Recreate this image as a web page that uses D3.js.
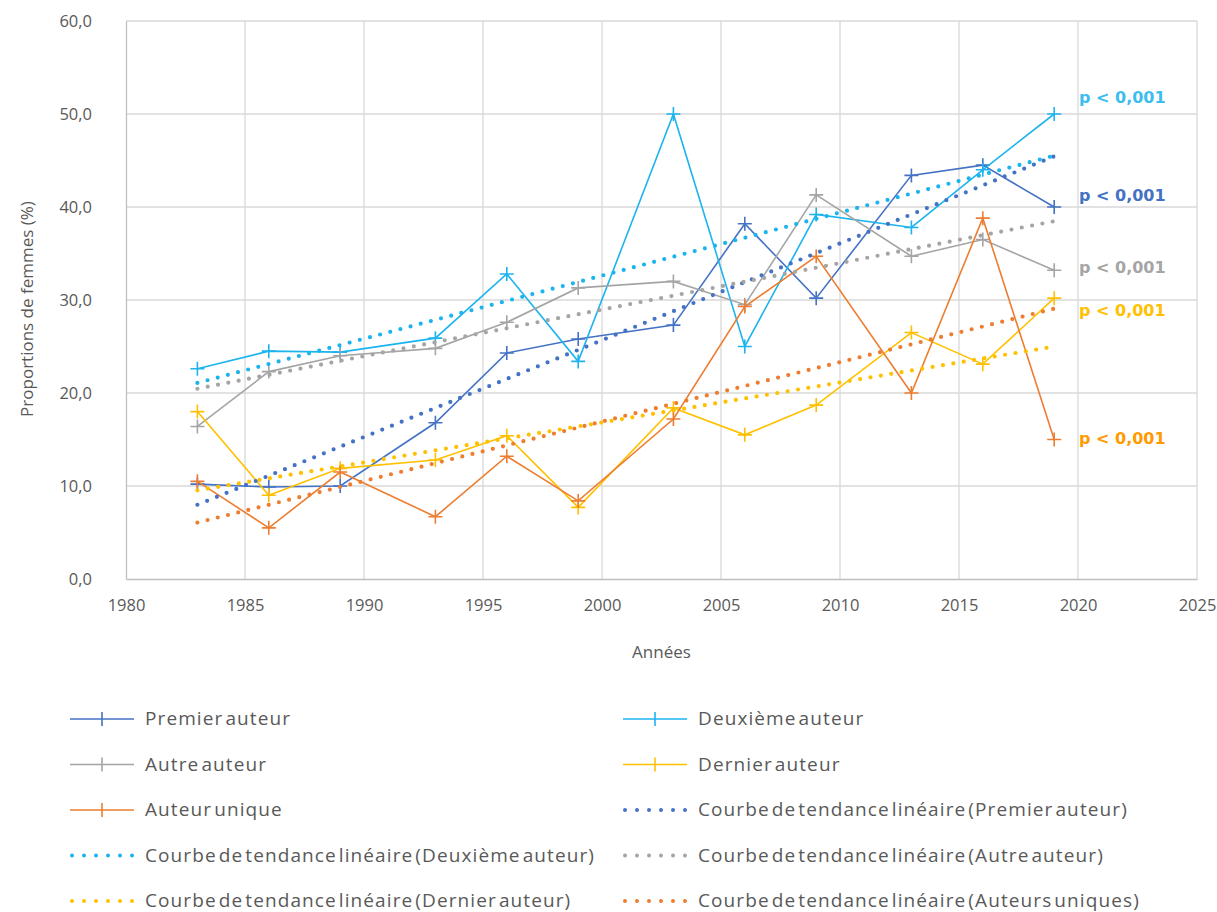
<!DOCTYPE html>
<html><head><meta charset="utf-8">
<script src="https://cdn.jsdelivr.net/npm/d3@7"></script>
<style>
body{margin:0;background:#fff;}
svg{display:block;}
</style></head>
<body>
<svg id="c" width="1217" height="912"></svg>
<script>
const years = [1983, 1986, 1989, 1993, 1996, 1999, 2003, 2006, 2009, 2013, 2016, 2019];
const premier = [10.2, 9.9, 10.0, 16.8, 24.3, 25.8, 27.3, 38.2, 30.2, 43.4, 44.5, 40.0];
const deuxieme = [22.6, 24.5, 24.4, 25.9, 32.8, 23.4, 50.0, 25.0, 39.2, 37.8, 44.0, 50.0];
const autre = [16.4, 22.3, 24.0, 24.8, 27.6, 31.3, 32.0, 29.5, 41.3, 34.7, 36.5, 33.2];
const dernier = [18.0, 9.0, 11.9, 12.8, 15.4, 7.7, 18.4, 15.5, 18.7, 26.5, 23.1, 30.2];
const unique = [10.5, 5.5, 11.5, 6.7, 13.2, 8.4, 17.2, 29.3, 34.7, 20.0, 38.8, 15.0];
const seriesNames = ["Premier auteur", "Deuxième auteur", "Autre auteur", "Dernier auteur", "Auteur unique"];
const trendNames = ["Courbe de tendance linéaire (Premier auteur)", "Courbe de tendance linéaire (Deuxième auteur)", "Courbe de tendance linéaire (Autre auteur)", "Courbe de tendance linéaire (Dernier auteur)", "Courbe de tendance linéaire (Auteurs uniques)"];
const colors = ["#4472C4", "#1CB4EE", "#A5A5A5", "#FFC000", "#ED7D31"];
const pLabels = ["p < 0,001", "p < 0,001", "p < 0,001", "p < 0,001", "p < 0,001"];
const pColors = ["#3CBDEE", "#4472C4", "#A5A5A5", "#FFC000", "#FF9A00"];
const pValuePos = [51.8, 41.3, 33.5, 28.9, 15.2];
const xTicks = [1980, 1985, 1990, 1995, 2000, 2005, 2010, 2015, 2020, 2025];
const yTicks = [0, 10, 20, 30, 40, 50, 60];

const allSeries = [premier, deuxieme, autre, dernier, unique];

const svg = d3.select("#c");
const L = 126, R = 1197, T = 21, B = 579;
const x = d3.scaleLinear().domain([1980, 2025]).range([L, R]);
const y = d3.scaleLinear().domain([0, 60]).range([B, T]);
const fmt = v => d3.format(".1f")(v).replace(".", ",");
const txtFont = "'Open Sans', 'Liberation Sans', sans-serif";

// gridlines
svg.append("g").selectAll("line.h").data(yTicks.filter(v => v > 0)).join("line")
  .attr("x1", L).attr("x2", R).attr("y1", d => y(d)).attr("y2", d => y(d))
  .attr("stroke", "#D9D9D9").attr("stroke-width", 1.3);
svg.append("g").selectAll("line.v").data(xTicks.filter(v => v > 1980)).join("line")
  .attr("x1", d => x(d)).attr("x2", d => x(d)).attr("y1", T).attr("y2", B)
  .attr("stroke", "#D9D9D9").attr("stroke-width", 1.3);

// axes
const xAxis = svg.append("g").attr("transform", `translate(0,${B})`)
  .call(d3.axisBottom(x).tickValues(xTicks).tickFormat(d3.format("d")).tickSize(0).tickPadding(20));
const yAxis = svg.append("g").attr("transform", `translate(${L},0)`)
  .call(d3.axisLeft(y).tickValues(yTicks).tickFormat(fmt).tickSize(0).tickPadding(34));
[xAxis, yAxis].forEach(a => {
  a.select(".domain").attr("stroke", "#BFBFBF").attr("stroke-width", 1.3);
  a.selectAll("text").attr("fill", "#595959").style("font-family", txtFont).style("font-size", "16.5px");
});

svg.append("text").attr("x", x(2002.5)).attr("y", 658).attr("text-anchor", "middle")
  .attr("fill", "#595959").style("font-family", txtFont).style("font-size", "17px").text("Années");
svg.append("text").attr("transform", `translate(33,${(T + B) / 2 + 9}) rotate(-90)`).attr("text-anchor", "middle")
  .attr("fill", "#595959").style("font-family", txtFont).style("font-size", "17px").text("Proportions de femmes (%)");

// series lines
const line = d3.line().x((d, i) => x(years[i])).y(d => y(d));
const crossPath = (cx, cy, s) => `M${cx - s},${cy}H${cx + s}M${cx},${cy - s}V${cy + s}`;
allSeries.forEach((vals, si) => {
  const g = svg.append("g");
  g.append("path").attr("d", line(vals)).attr("fill", "none")
    .attr("stroke", colors[si]).attr("stroke-width", 1.6);
  g.selectAll("path.m").data(vals).join("path")
    .attr("d", (d, i) => crossPath(x(years[i]), y(d), 7))
    .attr("stroke", colors[si]).attr("stroke-width", 1.6).attr("fill", "none");
});

// linear trend lines (least squares fit of each series)
function fit(vals) {
  const mx = d3.mean(years), my = d3.mean(vals);
  let sxy = 0, sxx = 0;
  years.forEach((yr, i) => { sxy += (yr - mx) * (vals[i] - my); sxx += (yr - mx) * (yr - mx); });
  const b = sxy / sxx;
  return t => my + b * (t - mx);
}
const x0 = years[0], x1 = years[years.length - 1];
allSeries.forEach((vals, si) => {
  const f = fit(vals);
  svg.append("line").attr("x1", x(x0)).attr("y1", y(f(x0))).attr("x2", x(x1)).attr("y2", y(f(x1)))
    .attr("stroke", colors[si]).attr("stroke-width", 4.2).attr("stroke-linecap", "round")
    .attr("stroke-dasharray", "0,10.5");
});

// p-value labels
svg.append("g").selectAll("text").data(pLabels).join("text")
  .attr("x", 1079).attr("y", (d, i) => y(pValuePos[i]) + 6)
  .attr("fill", (d, i) => pColors[i])
  .style("font-family", "'DejaVu Sans', Verdana, sans-serif").style("font-weight", "bold").style("font-size", "16px")
  .text(d => d);

// legend
const legendItems = [
  {name: seriesNames[0], c: colors[0], t: "line"}, {name: seriesNames[1], c: colors[1], t: "line"},
  {name: seriesNames[2], c: colors[2], t: "line"}, {name: seriesNames[3], c: colors[3], t: "line"},
  {name: seriesNames[4], c: colors[4], t: "line"}, {name: trendNames[0], c: colors[0], t: "dot"},
  {name: trendNames[1], c: colors[1], t: "dot"}, {name: trendNames[2], c: colors[2], t: "dot"},
  {name: trendNames[3], c: colors[3], t: "dot"}, {name: trendNames[4], c: colors[4], t: "dot"}
];
const colX = [70, 623], rowY0 = 719, rowDy = 45.5;
const lg = svg.append("g").selectAll("g").data(legendItems).join("g")
  .attr("transform", (d, i) => `translate(${colX[i % 2]},${rowY0 + Math.floor(i / 2) * rowDy})`);
lg.each(function(d) {
  const g = d3.select(this);
  if (d.t === "line") {
    g.append("line").attr("x1", 0).attr("x2", 64).attr("y1", 0).attr("y2", 0).attr("stroke", d.c).attr("stroke-width", 1.6);
    g.append("line").attr("x1", 32).attr("x2", 32).attr("y1", -7).attr("y2", 7).attr("stroke", d.c).attr("stroke-width", 1.6);
  } else {
    g.append("line").attr("x1", 2).attr("x2", 64).attr("y1", 0).attr("y2", 0).attr("stroke", d.c)
      .attr("stroke-width", 4).attr("stroke-linecap", "round").attr("stroke-dasharray", "0,12");
  }
  g.append("text").attr("x", 75).attr("y", 6).attr("fill", "#595959")
    .style("font-family", txtFont).style("font-size", "19px").style("letter-spacing", "1.1px")
    .style("word-spacing", "-4px").text(d.name);
});
</script>
</body></html>
